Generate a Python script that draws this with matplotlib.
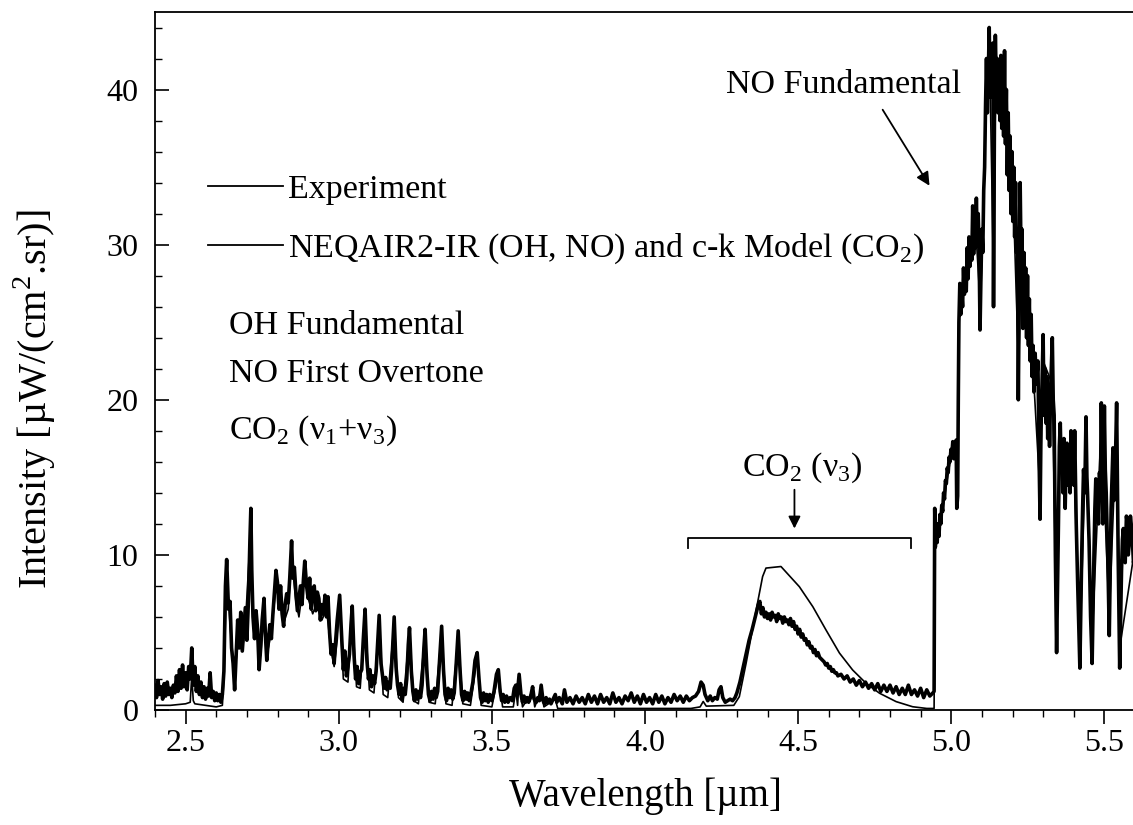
import matplotlib
matplotlib.use("Agg")
import matplotlib.pyplot as plt
from matplotlib.lines import Line2D
from matplotlib.ticker import MultipleLocator

plt.rcParams['font.family'] = ['Liberation Serif', 'DejaVu Serif']
plt.rcParams['mathtext.fontset'] = 'custom'
plt.rcParams['mathtext.rm'] = 'Liberation Serif'

# ---- measured emission spectrum (wavelength in um, intensity in uW/(cm^2 sr)) ----
# short-wave part: OH fundamental / NO first overtone / CO2 (v1+v3)
exp_wl_short = [
    2.400, 2.405, 2.410, 2.415, 2.420, 2.425, 2.430, 2.435, 2.440, 2.445, 2.450, 2.455,
    2.460, 2.465, 2.470, 2.475, 2.480, 2.485, 2.490, 2.495, 2.500, 2.505, 2.510, 2.515,
    2.520, 2.525, 2.530, 2.535, 2.540, 2.545, 2.550, 2.555, 2.560, 2.565, 2.570, 2.575,
    2.580, 2.585, 2.590, 2.595, 2.600, 2.605, 2.610, 2.615, 2.620, 2.625, 2.630, 2.634,
    2.640, 2.645, 2.650, 2.655, 2.660, 2.665, 2.670, 2.675, 2.680, 2.685, 2.690, 2.695,
    2.700, 2.705, 2.710, 2.713, 2.716, 2.720, 2.725, 2.730, 2.735, 2.740, 2.745, 2.750,
    2.756, 2.760, 2.765, 2.770, 2.775, 2.780, 2.785, 2.790, 2.795, 2.800, 2.805, 2.810,
    2.815, 2.820, 2.825, 2.830, 2.835, 2.840, 2.846, 2.850, 2.855, 2.860, 2.865, 2.870,
    2.875, 2.880, 2.885, 2.889, 2.895, 2.900, 2.905, 2.910, 2.915, 2.920, 2.925, 2.930,
    2.935, 2.940, 2.945, 2.950, 2.955, 2.960, 2.965, 2.970, 2.975, 2.980, 2.985, 2.990,
    2.995,
]
exp_int_short = [
    1.6, 0.8, 1.9, 1.0, 1.5, 0.7, 1.7, 0.9, 1.8, 1.0, 1.4, 0.8,
    1.6, 1.1, 2.2, 1.2, 2.6, 1.4, 2.9, 1.5, 2.4, 1.3, 2.8, 2.0,
    4.0, 1.6, 2.8, 1.2, 2.2, 1.0, 1.8, 0.8, 1.5, 0.7, 1.4, 0.9,
    2.4, 0.8, 1.2, 0.6, 1.1, 0.6, 1.0, 0.5, 1.0, 2.5, 8.0, 9.7,
    6.5, 7.0, 4.0, 3.0, 1.3, 3.5, 5.8, 4.0, 6.3, 3.8, 5.2, 6.6,
    4.5, 7.0, 11.0, 13.0, 9.0, 6.0, 4.6, 6.4, 5.2, 2.6, 4.0, 5.8,
    7.2, 5.0, 3.2, 4.5, 5.5, 4.6, 6.2, 7.6, 9.0, 8.2, 6.5, 8.0,
    6.2, 5.4, 6.8, 7.5, 6.9, 8.5, 10.9, 8.5, 9.2, 7.6, 6.4, 7.2,
    8.0, 6.8, 8.5, 9.6, 8.0, 7.2, 8.5, 6.5, 7.8, 8.0, 6.4, 7.6,
    7.2, 5.8, 6.8, 6.2, 7.4, 6.0, 7.3, 5.0, 3.6, 4.2, 3.0, 4.5,
    5.8,
]

# mid part: overtone tail, baseline and CO2 (v3) band
exp_wl_mid = [
    3.003, 3.010, 3.015, 3.020, 3.025, 3.030, 3.035, 3.040, 3.044, 3.050, 3.055,
    3.060, 3.065, 3.070, 3.075, 3.080, 3.086, 3.092, 3.097, 3.102, 3.107, 3.112, 3.117,
    3.122, 3.128, 3.132, 3.138, 3.143, 3.148, 3.153, 3.158, 3.163, 3.168, 3.172, 3.177,
    3.181, 3.187, 3.192, 3.197, 3.202, 3.207, 3.212, 3.217, 3.222, 3.227, 3.231, 3.237,
    3.242, 3.247, 3.252, 3.257, 3.262, 3.267, 3.272, 3.278, 3.282, 3.288, 3.293, 3.298,
    3.303, 3.308, 3.313, 3.318, 3.323, 3.330, 3.336, 3.342, 3.347, 3.352, 3.357, 3.362,
    3.367, 3.372, 3.377, 3.383, 3.390, 3.396, 3.401, 3.406, 3.411, 3.416, 3.421, 3.426,
    3.431, 3.438, 3.445, 3.452, 3.458, 3.463, 3.468, 3.473, 3.478, 3.483, 3.488, 3.493,
    3.500, 3.507, 3.515, 3.521, 3.527, 3.532, 3.537, 3.542, 3.548, 3.553, 3.560, 3.567,
    3.573, 3.578, 3.583, 3.589, 3.595, 3.600, 3.605, 3.610, 3.615, 3.620, 3.626, 3.633,
    3.638, 3.645, 3.650, 3.655, 3.661, 3.667, 3.672, 3.677, 3.682, 3.688, 3.693, 3.700,
    3.707, 3.712, 3.720, 3.730, 3.737, 3.745, 3.755, 3.765, 3.775, 3.785, 3.795, 3.805,
    3.815, 3.825, 3.835, 3.845, 3.855, 3.865, 3.875, 3.885, 3.895, 3.905, 3.915, 3.925,
    3.935, 3.945, 3.955, 3.965, 3.975, 3.985, 3.995, 4.005, 4.015, 4.025, 4.035, 4.045,
    4.055, 4.065, 4.075, 4.085, 4.095, 4.105, 4.115, 4.125, 4.135, 4.145, 4.155, 4.165,
    4.175, 4.183, 4.190, 4.196, 4.205, 4.213, 4.220, 4.228, 4.236, 4.242, 4.248, 4.254,
    4.262, 4.270, 4.278, 4.286, 4.294, 4.300, 4.310, 4.320, 4.330, 4.340, 4.350, 4.360,
    4.370, 4.375, 4.380, 4.385, 4.390, 4.395, 4.400, 4.405, 4.410, 4.415, 4.420, 4.425,
    4.430, 4.435, 4.440, 4.445, 4.450, 4.455, 4.460, 4.465, 4.470, 4.475, 4.480, 4.485,
    4.490, 4.495, 4.500, 4.505, 4.510, 4.515, 4.520, 4.525, 4.530, 4.535, 4.540, 4.545,
    4.550, 4.555, 4.560, 4.565, 4.570, 4.575, 4.580, 4.585, 4.590, 4.595, 4.600, 4.605,
    4.610, 4.615, 4.620, 4.625, 4.630, 4.640, 4.650, 4.660, 4.670, 4.680, 4.690, 4.700,
    4.710, 4.720, 4.730, 4.740, 4.750, 4.760, 4.770, 4.780, 4.790, 4.800, 4.810, 4.820,
    4.830, 4.840, 4.850, 4.860, 4.870, 4.880, 4.890, 4.900, 4.910, 4.920, 4.930, 4.940,
]
exp_int_mid = [
    7.4, 4.5, 2.6, 3.8, 2.2, 2.8, 3.6, 5.5, 6.7, 3.5, 2.0,
    2.8, 1.7, 2.4, 2.6, 4.5, 6.5, 3.2, 2.0, 2.6, 1.5, 2.2, 1.7,
    2.5, 4.6, 6.1, 3.0, 2.2, 1.4, 2.1, 1.3, 1.8, 1.4, 2.5, 4.5,
    6.0, 2.8, 1.6, 1.0, 1.7, 0.7, 1.4, 1.0, 2.0, 4.2, 5.3, 2.5,
    1.2, 0.6, 1.3, 0.7, 1.2, 0.8, 1.6, 4.0, 5.2, 2.4, 1.0, 0.6,
    1.2, 0.7, 1.4, 0.8, 1.2, 3.5, 5.4, 2.6, 1.0, 0.6, 1.4, 0.8,
    1.3, 0.7, 1.1, 2.8, 5.1, 2.6, 1.0, 0.6, 1.2, 0.7, 1.1, 0.6,
    1.0, 1.8, 3.2, 3.7, 2.0, 0.8, 0.5, 1.1, 0.6, 1.0, 0.5, 1.0,
    0.6, 1.2, 2.3, 2.6, 1.2, 0.6, 1.0, 0.5, 0.9, 0.5, 0.8, 0.6,
    1.4, 1.6, 1.0, 2.3, 1.0, 0.5, 0.9, 0.5, 0.8, 0.5, 0.8, 1.5,
    0.7, 0.5, 0.8, 0.6, 1.6, 0.6, 0.4, 0.8, 0.5, 0.7, 0.4, 0.7,
    1.0, 0.5, 0.8, 0.4, 1.3, 0.5, 0.8, 0.4, 0.9, 0.5, 0.8, 0.4,
    1.0, 0.5, 0.9, 0.4, 1.0, 0.5, 0.8, 0.4, 1.1, 0.5, 0.8, 0.4,
    0.9, 0.6, 1.1, 0.5, 0.9, 0.4, 1.0, 0.5, 0.8, 0.4, 1.0, 0.5,
    0.9, 0.4, 0.8, 0.5, 1.0, 0.6, 0.9, 0.5, 0.9, 0.6, 0.8, 0.9,
    1.2, 1.8, 1.6, 1.0, 0.6, 0.9, 0.6, 0.8, 0.7, 1.3, 1.5, 0.8,
    0.5, 0.6, 0.7, 0.6, 0.8, 1.1, 1.8, 2.7, 3.6, 4.5, 5.2, 6.0,
    6.8, 7.0, 6.2, 6.6, 6.0, 6.3, 5.9, 6.2, 5.8, 6.3, 6.0, 6.1,
    5.7, 6.2, 5.9, 6.0, 5.6, 6.0, 5.7, 5.8, 5.5, 5.9, 5.4, 5.7,
    5.2, 5.4, 4.9, 5.2, 4.7, 4.9, 4.5, 4.6, 4.2, 4.4, 4.0, 4.1,
    3.7, 3.9, 3.5, 3.7, 3.4, 3.3, 3.2, 3.1, 2.9, 3.0, 2.7, 2.8,
    2.5, 2.6, 2.4, 2.4, 2.2, 2.3, 2.0, 2.2, 1.8, 2.0, 1.6, 1.9,
    1.5, 1.8, 1.4, 1.7, 1.3, 1.7, 1.2, 1.6, 1.2, 1.6, 1.1, 1.5,
    1.0, 1.4, 1.0, 1.6, 1.0, 1.3, 0.9, 1.4, 0.8, 1.3, 0.9, 1.1,
]

# long-wave part: NO fundamental band
exp_wl_long = [
    4.944, 4.946, 4.948, 4.951, 4.954, 4.957, 4.960, 4.963, 4.966, 4.969, 4.972, 4.975,
    4.978, 4.981, 4.984, 4.987, 4.990, 4.993, 4.996, 4.999, 5.002, 5.005, 5.008, 5.011,
    5.014, 5.016, 5.018, 5.021, 5.023, 5.025, 5.028, 5.031, 5.034, 5.037, 5.040, 5.043,
    5.046, 5.049, 5.052, 5.055, 5.058, 5.061, 5.064, 5.067, 5.070, 5.073, 5.076, 5.079,
    5.082, 5.085, 5.088, 5.091, 5.094, 5.097, 5.100, 5.103, 5.106, 5.109, 5.112, 5.115,
    5.118, 5.121, 5.124, 5.127, 5.130, 5.133, 5.136, 5.138, 5.141, 5.144, 5.147, 5.150,
    5.153, 5.156, 5.159, 5.162, 5.165, 5.168, 5.171, 5.174, 5.177, 5.180, 5.183, 5.186,
    5.189, 5.192, 5.195, 5.198, 5.201, 5.204, 5.207, 5.210, 5.213, 5.216, 5.219, 5.222,
    5.225, 5.228, 5.231, 5.234, 5.237, 5.240, 5.243, 5.246, 5.249, 5.252, 5.255, 5.258,
    5.261, 5.264, 5.267, 5.270, 5.274, 5.278, 5.283, 5.287, 5.290, 5.293, 5.297, 5.300,
    5.303, 5.306, 5.309, 5.312, 5.315, 5.318, 5.321, 5.325, 5.330, 5.333, 5.336, 5.340,
    5.344, 5.350, 5.353, 5.356, 5.359, 5.362, 5.365, 5.368, 5.372, 5.375, 5.378, 5.381,
    5.385, 5.388, 5.391, 5.394, 5.397, 5.400, 5.403, 5.408, 5.413, 5.420, 5.426, 5.429,
    5.432, 5.436, 5.440, 5.443, 5.445, 5.450, 5.455, 5.460, 5.466, 5.469, 5.472, 5.475,
    5.478, 5.481, 5.484, 5.487, 5.490, 5.493, 5.495, 5.498, 5.500, 5.503, 5.506, 5.512,
    5.516, 5.522, 5.525, 5.528, 5.531, 5.534, 5.537, 5.540, 5.543, 5.545, 5.550, 5.556,
    5.559, 5.562, 5.565, 5.568, 5.572, 5.575, 5.578, 5.581, 5.585, 5.590, 5.595, 5.600,
]
exp_int_long = [
    1.2, 13.0, 10.5, 11.8, 10.8, 12.0, 11.2, 12.6, 12.0, 13.2, 12.8, 14.0,
    13.6, 14.8, 14.6, 15.6, 15.3, 16.3, 16.0, 16.8, 16.5, 17.3, 16.2, 17.0,
    16.4, 17.4, 13.0, 13.8, 20.0, 25.0, 27.5, 25.5, 27.0, 26.0, 28.5, 26.8,
    28.0, 27.0, 29.8, 27.8, 30.5, 28.6, 30.2, 29.0, 32.5, 29.4, 31.0, 29.8,
    33.0, 30.2, 32.0, 29.5, 24.5, 28.0, 31.0, 29.5, 33.5, 35.0, 39.0, 42.0,
    38.5, 41.0, 44.0, 39.5, 42.5, 40.0, 43.0, 26.0, 38.0, 43.5, 40.5, 42.0,
    38.5, 41.5, 38.0, 42.2, 37.5, 41.0, 37.0, 42.5, 36.5, 40.0, 34.5, 38.5,
    33.5, 37.0, 32.0, 36.0, 31.5, 35.0, 30.5, 34.0, 29.5, 31.0, 20.0, 27.0,
    34.0, 29.0, 31.0, 24.6, 29.5, 26.0, 28.5, 24.0, 28.0, 23.5, 26.5, 22.5,
    25.5, 21.5, 23.5, 20.5, 23.0, 21.0, 22.5, 16.0, 12.3, 18.0, 21.5, 24.2,
    19.0, 22.0, 18.5, 21.5, 17.5, 20.5, 17.0, 21.0, 24.0, 20.0, 19.0, 10.0,
    3.7, 12.0, 17.0, 18.5, 15.5, 17.0, 14.0, 17.5, 13.0, 16.0, 17.2, 14.5,
    16.0, 14.0, 18.0, 15.0, 16.5, 14.5, 18.0, 12.1, 8.0, 2.7, 10.0, 13.0,
    15.5, 14.0, 18.9, 15.0, 14.0, 10.9, 6.0, 3.0, 10.0, 13.0, 14.9, 12.5,
    13.5, 12.0, 15.3, 14.0, 19.8, 15.0, 12.0, 16.0, 19.6, 15.5, 14.0, 9.0,
    4.8, 13.0, 15.0, 16.9, 13.5, 14.0, 17.0, 19.8, 14.0, 10.0, 2.7, 9.0,
    11.0, 11.7, 10.0, 9.5, 12.5, 12.0, 10.0, 10.7, 12.5, 11.5, 9.5, 10.0,
]

# ---- NEQAIR2-IR (OH, NO) and c-k model (CO2) prediction ----
mod_wl = [
    2.400, 2.450, 2.500, 2.515, 2.520, 2.525, 2.530, 2.600, 2.620, 2.625, 2.634, 2.645,
    2.660, 2.672, 2.685, 2.695, 2.712, 2.720, 2.730, 2.745, 2.756, 2.768, 2.780, 2.795,
    2.810, 2.820, 2.835, 2.846, 2.860, 2.870, 2.889, 2.900, 2.915, 2.930, 2.945, 2.960,
    2.975, 2.985, 2.995, 3.003, 3.015, 3.030, 3.044, 3.058, 3.070, 3.086, 3.100, 3.115,
    3.132, 3.145, 3.160, 3.181, 3.195, 3.210, 3.231, 3.245, 3.260, 3.282, 3.295, 3.315,
    3.336, 3.350, 3.370, 3.390, 3.405, 3.430, 3.452, 3.465, 3.500, 3.521, 3.535, 3.570,
    3.578, 3.584, 3.589, 3.600, 3.633, 3.640, 3.661, 3.670, 3.707, 3.715, 4.150, 4.180,
    4.190, 4.200, 4.290, 4.308, 4.330, 4.363, 4.384, 4.395, 4.444, 4.504, 4.548, 4.591,
    4.635, 4.678, 4.722, 4.766, 4.820, 4.874, 4.920, 4.944, 4.947, 4.960, 4.980, 5.000,
    5.015, 5.020, 5.025, 5.050, 5.080, 5.095, 5.105, 5.115, 5.125, 5.138, 5.145, 5.170,
    5.200, 5.220, 5.230, 5.260, 5.290, 5.300, 5.330, 5.344, 5.356, 5.400, 5.420, 5.440,
    5.460, 5.490, 5.516, 5.540, 5.550, 5.600,
]
mod_int = [
    0.3, 0.3, 0.4, 0.5, 2.2, 0.6, 0.4, 0.2, 0.3, 2.0, 8.8, 5.5,
    2.0, 5.0, 3.8, 5.5, 11.5, 5.5, 5.0, 3.5, 6.5, 3.8, 5.0, 8.0,
    6.8, 5.6, 6.5, 9.8, 7.0, 6.0, 8.8, 7.2, 6.2, 7.0, 5.8, 6.5,
    3.8, 2.8, 4.5, 6.8, 2.0, 1.8, 6.2, 1.5, 1.4, 6.0, 1.3, 1.1,
    5.8, 1.0, 0.8, 5.6, 0.8, 0.5, 5.0, 0.6, 0.4, 4.9, 0.5, 0.4,
    5.0, 0.4, 0.3, 4.7, 0.4, 0.3, 3.4, 0.3, 0.2, 2.3, 0.2, 0.2,
    1.3, 0.3, 2.0, 0.2, 1.2, 0.2, 1.3, 0.2, 0.7, 0.1, 0.1, 0.2,
    0.55, 0.25, 0.3, 0.86, 3.0, 6.45, 8.6, 9.15, 9.25, 7.95, 6.66, 5.16,
    3.67, 2.58, 1.72, 1.08, 0.54, 0.21, 0.1, 0.1, 11.5, 11.5, 14.0, 16.5,
    17.0, 13.5, 26.0, 28.5, 31.0, 26.0, 32.0, 40.0, 42.5, 28.0, 41.0, 40.0,
    34.5, 22.0, 30.0, 24.5, 14.0, 22.5, 21.0, 5.0, 17.0, 16.5, 4.0, 17.5,
    4.5, 18.5, 6.0, 18.5, 4.0, 10.5,
]

x_ticks = [2.5, 3.0, 3.5, 4.0, 4.5, 5.0, 5.5]
x_ticklabels = ['2.5', '3.0', '3.5', '4.0', '4.5', '5.0', '5.5']
y_ticks = [0, 10, 20, 30, 40]

exp_wl = exp_wl_short + exp_wl_mid + exp_wl_long
exp_int = exp_int_short + exp_int_mid + exp_int_long

W, H = 1133, 825
fig = plt.figure(figsize=(W / 100, H / 100), dpi=100)
ax = fig.add_axes([155 / W, 1 - 710 / H, 980 / W, 698 / H])

ax.plot(exp_wl, exp_int, color='black', lw=2.6, zorder=3)
ax.plot(mod_wl, mod_int, color='black', lw=1.2, zorder=4)

ax.set_xlim(2.4, 5.6)
ax.set_ylim(0, 45)
ax.set_xticks(x_ticks)
ax.set_xticklabels(x_ticklabels)
ax.set_yticks(y_ticks)
ax.xaxis.set_minor_locator(MultipleLocator(0.1))
ax.yaxis.set_minor_locator(MultipleLocator(2))
ax.tick_params(axis='x', which='major', direction='out', length=10, width=1.2,
               labelsize=23, pad=4)
ax.tick_params(axis='x', which='minor', direction='out', length=5, width=1.0)
ax.tick_params(axis='y', which='major', direction='in', length=10, width=1.2,
               labelsize=23, pad=12)
ax.tick_params(axis='y', which='minor', direction='in', length=5, width=1.0)
ax.spines['right'].set_visible(False)
for s in ('left', 'bottom', 'top'):
    ax.spines[s].set_linewidth(1.3)

ax.set_xlabel('Wavelength [µm]', fontsize=28, labelpad=14)
ax.set_ylabel('Intensity [µW/(cm$^2$.sr)]', fontsize=29)
ax.yaxis.set_label_coords(-0.099, 0.445)

handles = [Line2D([], [], color='black', lw=1.3), Line2D([], [], color='black', lw=1.3)]
ax.legend(handles, ['Experiment', 'NEQAIR2-IR (OH, NO) and c-k Model (CO$_2$)'],
          loc='upper left', bbox_to_anchor=(208 / W, 1 - 174 / H),
          bbox_transform=fig.transFigure, frameon=False, fontsize=24.5,
          handlelength=2.2, handletextpad=0.15, labelspacing=0.78,
          borderpad=0, borderaxespad=0)

txt = dict(fontsize=24.5, color='black')
ax.text(2.642, 24.8, 'OH Fundamental', ha='left', va='center', **txt)
ax.text(2.642, 21.7, 'NO First Overtone', ha='left', va='center', **txt)
ax.text(2.642, 18.0, 'CO$_2$ (ν$_1$+ν$_3$)', ha='left', va='center', **txt)
ax.text(4.266, 40.3, 'NO Fundamental', ha='left', va='center', **txt)
ax.annotate('', xy=(4.929, 33.8), xytext=(4.776, 38.7),
            arrowprops=dict(arrowstyle='-|>', color='black', lw=1.3,
                            mutation_scale=20, shrinkA=0, shrinkB=0))

ax.text(4.514, 15.6, 'CO$_2$ (ν$_3$)', ha='center', va='center', **txt)
ax.annotate('', xy=(4.488, 11.7), xytext=(4.488, 14.2),
            arrowprops=dict(arrowstyle='-|>', color='black', lw=1.3,
                            mutation_scale=18, shrinkA=0, shrinkB=0))
ax.plot([4.142, 4.142, 4.870, 4.870], [10.45, 11.1, 11.1, 10.45],
        color='black', lw=1.3, zorder=5)

fig.savefig('out.png', dpi=100)
